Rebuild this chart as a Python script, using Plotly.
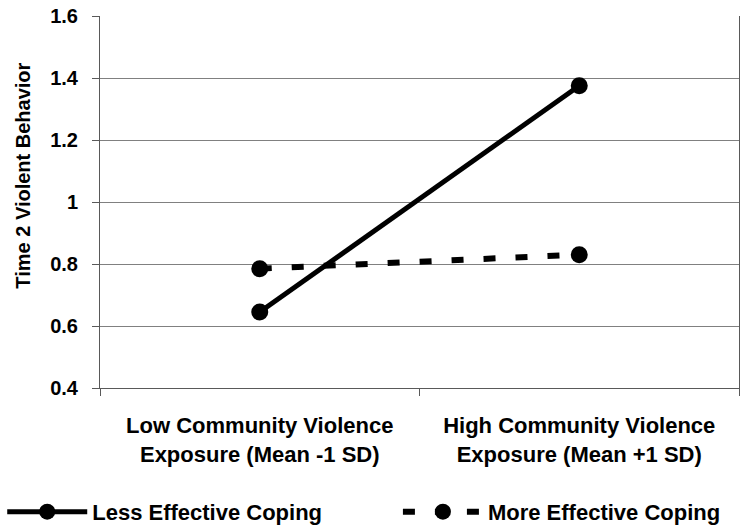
import plotly.graph_objects as go

# Exposure levels on the x axis
categories = [
    "Low Community Violence<br>Exposure (Mean -1 SD)",
    "High Community Violence<br>Exposure (Mean +1 SD)",
]
# Predicted Time 2 violent behavior for each coping group
less_effective = [0.645, 1.375]
more_effective = [0.785, 0.830]

y_ticks = [0.4, 0.6, 0.8, 1.0, 1.2, 1.4, 1.6]
y_tick_text = ["0.4", "0.6", "0.8", "1", "1.2", "1.4", "1.6"]

FONT = "Liberation Sans, Arial, sans-serif"
GRID = "#808080"
AXIS = "#595959"

fig = go.Figure()
fig.add_trace(go.Scatter(
    x=categories, y=less_effective, name="Less Effective Coping",
    mode="lines+markers",
    line=dict(color="black", width=5),
    marker=dict(color="black", size=17),
    legend="legend",
))
fig.add_trace(go.Scatter(
    x=categories, y=more_effective, name="More Effective Coping",
    mode="lines+markers",
    line=dict(color="black", width=6, dash="12px,20px"),
    marker=dict(color="black", size=17),
    legend="legend2",
))

legend_style = dict(
    orientation="h", xref="container", yref="container",
    xanchor="left", y=0.036, yanchor="middle",
    font=dict(size=22, family=FONT, color="black", weight="bold"),
    itemwidth=80, bgcolor="rgba(0,0,0,0)",
)

fig.update_layout(
    width=741, height=531,
    margin=dict(l=100, r=2, t=16, b=143, autoexpand=False),
    paper_bgcolor="white", plot_bgcolor="white",
    font=dict(family=FONT, color="black", size=20),
    showlegend=True,
    legend=dict(x=0.003, **legend_style),
    legend2=dict(x=0.537, **legend_style),
    annotations=[dict(
        text="<b>Time 2 Violent Behavior</b>", textangle=-90,
        xref="paper", yref="paper", x=-0.121, y=0.57,
        xanchor="center", yanchor="middle", showarrow=False,
        font=dict(size=20, family=FONT, color="black"),
    )],
)

fig.update_xaxes(
    type="category", tickson="boundaries", ticks="outside", ticklen=7,
    tickcolor=AXIS, showline=True, linecolor=AXIS, linewidth=1,
    showgrid=False, range=[-0.5, 1.5], ticklabelstandoff=18,
    tickfont=dict(size=22, family=FONT, color="black", weight="bold"),
)
fig.update_yaxes(
    range=[0.4, 1.6], tickvals=y_ticks, ticktext=y_tick_text,
    ticks="outside", ticklen=7, tickcolor=AXIS,
    showline=True, linecolor=AXIS, linewidth=1, mirror=True,
    showgrid=True, gridcolor=GRID, gridwidth=1, zeroline=False,
    ticklabelstandoff=10,
    tickfont=dict(size=20, family=FONT, color="black", weight="bold"),
)

fig.write_html("out.html")
